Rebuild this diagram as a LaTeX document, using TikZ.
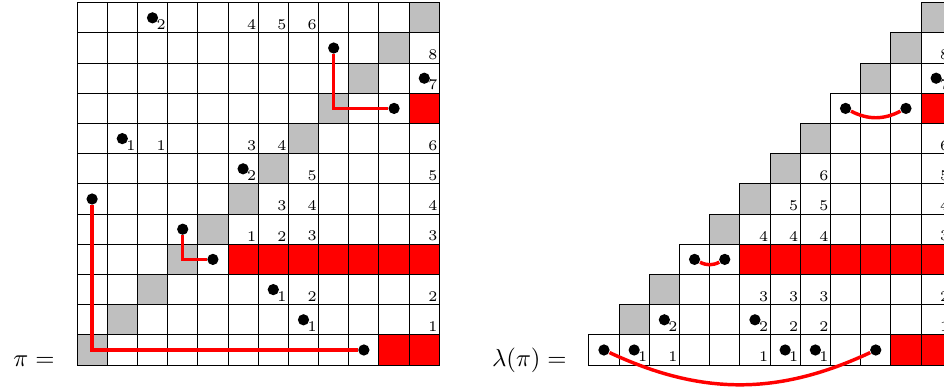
\documentclass[tikz,border=0pt]{standalone}
\usepackage{amsmath}
\usepackage{tikz}
\usetikzlibrary{positioning}
\tikzset{
  pcell/.style={draw, line width=0.4pt},
  pgray/.style={fill=black!25},
  pred/.style={fill=red},
  pdot/.style={circle, fill=black, inner sep=0pt, minimum size=1.6mm},
  pnum/.style={anchor=south east, font=\fontsize{6}{7}\selectfont,
               inner xsep=0.6pt, inner ysep=1.1pt},
  plab/.style={anchor=base east, inner sep=0pt},
  plink/.style={red, line width=1.4pt},   % rote Verbindungen
}

\begin{document}
\begin{tikzpicture}[x=4.3mm, y=4.3mm]
        \useasboundingbox (-2.55,-0.76) rectangle (28.71,12.09);
        \clip (-2.55,-0.76) rectangle (28.71,12.09);
        % pi
        \foreach \c in {0,...,11} \fill[pgray] (\c,\c) rectangle ++(1,1);
        \fill[pred] (11,8) rectangle (12,9);
        \fill[pred] (5,3) rectangle (12,4);
        \fill[pred] (10,0) rectangle (12,1);
        \foreach \r in {0,...,11} \foreach \c in {0,...,11}
          \draw[pcell] (\c,\r) rectangle ++(1,1);
        \node[pdot](l-a1) at (8.5,10.5) {};
        \node[pdot](l-a2) at (10.5,8.5) {};
        \node[pdot](l-b1) at (3.5,4.5) {};
        \node[pdot](l-b2) at (4.5,3.5) {};
        \node[pdot](l-c1) at (0.5,5.5) {};
        \node[pdot](l-c2) at (9.5,0.5) {};
        \foreach \c/\r in {2/11, 11/9, 1/7, 5/6, 6/2, 7/1}
          \node[pdot](l-d\c-\r) at (\c+0.5,\r+0.5) {};
        \foreach \c/\r/\t in {5/11/4, 6/11/5, 7/11/6, 2/11/2, 11/10/8, 11/9/7,
            1/7/1, 2/7/1, 5/7/3, 6/7/4, 11/7/6, 5/6/2, 7/6/5, 11/6/5,
            6/5/3, 7/5/4, 11/5/4, 5/4/1, 6/4/2, 7/4/3, 11/4/3,
            6/2/1, 7/2/2, 11/2/2, 7/1/1, 11/1/1}
          \node[pnum](l-n\c-\r) at (\c+1,\r) {\t};
        \draw[plink](l-a1) |- (l-a2);
        \draw[plink](l-b1) |- (l-b2);
        \draw[plink](l-c1) |- (l-c2);
        \node[plab](l-lab) at (-0.73,-0.06) {$\pi =$};
        % lambda(pi)
        \begin{scope}[shift={(16.95,0)}]
          \foreach \c in {1,2,4,5,6,7,9,10,11} \fill[pgray] (\c,\c) rectangle ++(1,1);
          \fill[pred] (11,8) rectangle (12,9);
          \fill[pred] (5,3) rectangle (12,4);
          \fill[pred] (10,0) rectangle (12,1);
          \foreach \r in {0,...,11} \foreach \c in {\r,...,11}
            \draw[pcell] (\c,\r) rectangle ++(1,1);
          \node[pdot](r-a1) at (8.5,8.5) {};
          \node[pdot](r-a2) at (10.5,8.5) {};
          \node[pdot](r-b1) at (3.5,3.5) {};
          \node[pdot](r-b2) at (4.5,3.5) {};
          \node[pdot](r-c1) at (0.5,0.5) {};
          \node[pdot](r-c2) at (9.5,0.5) {};
          \foreach \c/\r in {11/9, 2/1, 5/1, 1/0, 6/0, 7/0}
            \node[pdot](r-d\c-\r) at (\c+0.5,\r+0.5) {};
          \foreach \c/\r/\t in {11/10/8, 11/9/7, 11/7/6, 7/6/6, 11/6/5,
              6/5/5, 7/5/5, 11/5/4, 5/4/4, 6/4/4, 7/4/4, 11/4/3,
              5/2/3, 6/2/3, 7/2/3, 11/2/2, 2/1/2, 5/1/2, 6/1/2, 7/1/2, 11/1/1,
              1/0/1, 2/0/1, 5/0/1, 6/0/1, 7/0/1}
            \node[pnum](r-n\c-\r) at (\c+1,\r) {\t};
          \draw[plink](r-a1) to[bend right=27] (r-a2);
          \draw[plink](r-b1) to[bend right=27] (r-b2);
          \draw[plink](r-c1) to[bend right=25] (r-c2);
          \node[plab](r-lab) at (-0.72,-0.06) {$\lambda(\pi) =$};
        \end{scope}
      \end{tikzpicture}
\end{document}
